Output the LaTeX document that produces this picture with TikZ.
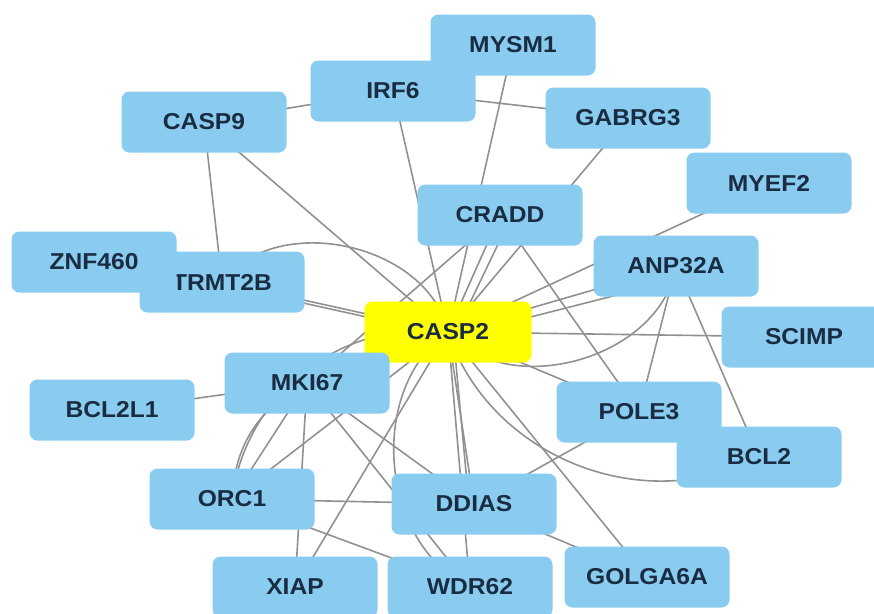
\documentclass[tikz,border=0pt]{standalone}
\usepackage{fontspec}
\setmainfont{Liberation Sans}[FakeStretch=1.07]
\usepackage{xcolor}
\usepackage{tikz}
\usetikzlibrary{positioning}
\definecolor{genefill}{RGB}{137,204,240}
\definecolor{hubfill}{RGB}{255,255,0}
\definecolor{genetext}{RGB}{26,44,66}
\definecolor{edgegray}{RGB}{145,145,145}
\pgfdeclarelayer{background}
\pgfsetlayers{background,main}
\tikzset{every node/.style={align=center}}

\begin{document}
\begin{tikzpicture}[x=1pt,y=-1pt,
    gene/.style={fill=genefill,rounded corners=8pt,minimum width=165pt,minimum height=61pt,
                 inner sep=0pt,text=genetext,font=\fontsize{23}{24}\selectfont\bfseries},
    hub/.style={gene,fill=hubfill},
    link/.style={draw=edgegray,line width=1.6pt}
]
  \useasboundingbox (0,0) rectangle (874,613);
  % Gene nodes
  \node (CASP9)  at (204,122) [gene] {CASP9};
  \node (IRF6)   at (393, 91) [gene] {IRF6};
  \node (MYSM1)  at (513, 45) [gene] {MYSM1};
  \node (GABRG3) at (628,118) [gene] {GABRG3};
  \node (MYEF2)  at (769,183) [gene] {MYEF2};
  \node (CRADD)  at (500,215) [gene] {CRADD};
  \node (ANP32A) at (676,266) [gene] {ANP32A};
  \node (TRMT2B) at (222,282) [gene] {TRMT2B};
  \node (ZNF460) at ( 94,262) [gene] {ZNF460};
  \node (CASP2)  at (448,332) [hub, minimum width=167pt] {CASP2};
  \node (SCIMP)  at (804,337) [gene] {SCIMP};
  \node (MKI67)  at (307,383) [gene] {MKI67};
  \node (BCL2L1) at (112,410) [gene] {BCL2L1};
  \node (POLE3)  at (639,412) [gene] {POLE3};
  \node (BCL2)   at (759,457) [gene] {BCL2};
  \node (ORC1)   at (232,499) [gene] {ORC1};
  \node (DDIAS)  at (474,504) [gene] {DDIAS};
  \node (GOLGA6A) at (647,577) [gene] {GOLGA6A};
  \node (XIAP)   at (295,587) [gene] {XIAP};
  \node (WDR62)  at (470,587) [gene] {WDR62};
  % Interactions
  \begin{pgfonlayer}{background}
    \draw[link] (CASP9.center) -- (IRF6.center);
    \draw[link] (CASP9.center) -- (TRMT2B.center);
    \draw[link] (CASP9.center) -- (CASP2.center);
    \draw[link] (IRF6.center) -- (CASP2.center);
    \draw[link] (IRF6.center) -- (GABRG3.center);
    \draw[link] (MYSM1.center) -- (CASP2.center);
    \draw[link] (GABRG3.center) -- (CASP2.center);
    \draw[link] (MYEF2.center) -- (CASP2.center);
    \draw[link] (CRADD.center) -- (CASP2.center);
    \draw[link] ([xshift=12pt]CRADD.center) -- ([xshift=8pt]CASP2.center);
    \draw[link] (CRADD.center) -- (MKI67.center);
    \draw[link] (CRADD.center) -- (POLE3.center);
    \draw[link] (ANP32A.center) -- (CASP2.center);
    \draw[link] ([yshift=-14pt]ANP32A.center) -- ([yshift=-6pt]CASP2.center);
    \draw[link] (ANP32A.center) to[bend left=65] (CASP2.center);
    \draw[link] (ANP32A.center) -- (POLE3.center);
    \draw[link] (ANP32A.center) -- (BCL2.center);
    \draw[link] (SCIMP.center) -- (CASP2.center);
    \draw[link] (TRMT2B.center) -- (CASP2.center);
    \draw[link] ([yshift=-3pt]TRMT2B.center) -- ([yshift=-3pt]CASP2.center);
    \draw[link] (TRMT2B.center) to[bend left=65] (CASP2.center);
    \draw[link] (CASP2.center) -- (MKI67.center);
    \draw[link] ([xshift=6pt]CASP2.center) -- ([xshift=6pt]MKI67.center);
    \draw[link] (CASP2.center) -- (ORC1.center);
    \draw[link] (CASP2.center) to[bend right=45] (ORC1.center);
    \draw[link] (CASP2.center) -- (XIAP.center);
    \draw[link] (CASP2.center) -- (DDIAS.center);
    \draw[link] ([xshift=5pt]CASP2.center) -- ([xshift=-5pt]DDIAS.center);
    \draw[link] (CASP2.center) -- (WDR62.center);
    \draw[link] (CASP2.center) to[bend right=60] (WDR62.center);
    \draw[link] (CASP2.center) -- (POLE3.center);
    \draw[link] (CASP2.center) to[bend right=50] (BCL2.center);
    \draw[link] (CASP2.center) -- (GOLGA6A.center);
    \draw[link] (MKI67.center) -- (BCL2L1.center);
    \draw[link] (MKI67.center) -- (ORC1.center);
    \draw[link] (MKI67.center) to[bend right=30] (ORC1.center);
    \draw[link] (MKI67.center) -- (XIAP.center);
    \draw[link] (MKI67.center) -- (DDIAS.center);
    \draw[link] (MKI67.center) -- (WDR62.center);
    \draw[link] (ORC1.center) -- (DDIAS.center);
    \draw[link] (ORC1.center) -- (WDR62.center);
    \draw[link] (POLE3.center) -- (DDIAS.center);
    \draw[link] (DDIAS.center) -- (GOLGA6A.center);
  \end{pgfonlayer}
\end{tikzpicture}
\end{document}
